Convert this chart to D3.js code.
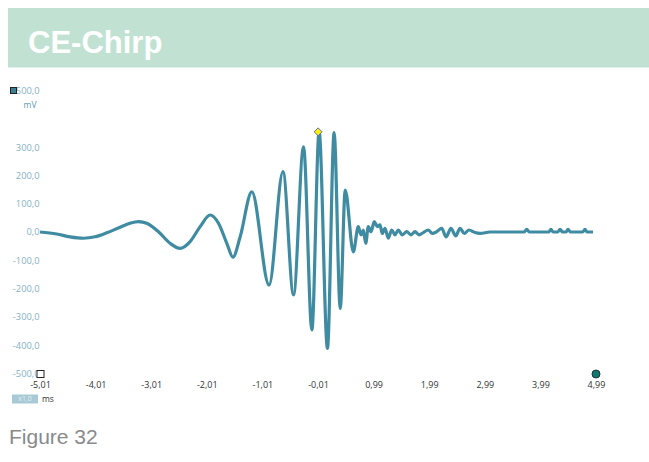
<!DOCTYPE html>
<html>
<head>
<meta charset="utf-8">
<script src="https://cdn.jsdelivr.net/npm/d3@7"></script>
<style>
  body { margin: 0; background: #fff; }
  svg { display: block; }
</style>
</head>
<body>
<div id="main"></div>
<script>
// CE-Chirp trace, values (ms / mV)

var timeMs = [
  -5.01, -4.71, -4.47, -4.23, -4.02, -3.81, -3.57, -3.39, -3.24, -3.09,
  -2.88, -2.67, -2.49, -2.31, -2.13, -1.95, -1.80, -1.65, -1.54, -1.41,
  -1.20, -0.89, -0.64, -0.45, -0.27, -0.12, 0.01, 0.16, 0.28, 0.39,
  0.48, 0.625, 0.715, 0.763, 0.805, 0.848, 0.895, 0.943, 1.003, 1.057,
  1.105, 1.146, 1.195, 1.254, 1.315, 1.375, 1.434, 1.506, 1.585, 1.663,
  1.735, 1.807, 1.884, 1.974, 2.046, 2.125, 2.215, 2.292, 2.382, 2.467,
  2.544, 2.621, 2.706, 2.814, 2.904, 3.084, 3.70, 3.744, 3.79, 4.14,
  4.18, 4.22, 4.30, 4.343, 4.39, 4.45, 4.486, 4.53, 4.75, 4.792,
  4.83, 4.936
];
var voltageMv = [
  0, -7, -17, -22, -17, -3, 17, 31, 37, 31,
  1, -40, -58, -34, 19, 60, 31, -40, -89, -17,
  142, -187, 213, -222, 301, -346, 354, -411, 351, -270,
  148, -70, 19, -10, 7, -40, 19, 1, 37, 19,
  25, -5, 13, -22, 7, -10, 7, -10, 1, -10,
  1, -10, -2, 7, -5, 1, 13, -17, 13, -14,
  13, -5, 7, -2, -5, 0, 0, 9, 0, 0,
  9, 0, 0, 9, 0, 0, 9, 0, 0, 9,
  0, 0
];

var xTicks = [-5.01, -4.01, -3.01, -2.01, -1.01, -0.01, 0.99, 1.99, 2.99, 3.99, 4.99];
var yTicks = [500, 300, 200, 100, 0, -100, -200, -300, -400, -500];

var W = 649, H = 462;
var plotLeft = 40, plotRight = 596, plotTop = 90.5, plotBottom = 373.5;
var lineColor = '#3f8ba1';

var svg = d3.select('#main')
  .append('svg')
  .attr('width', W)
  .attr('height', H);

// header band
svg.append('rect')
  .attr('x', 8).attr('y', 8)
  .attr('width', W - 8).attr('height', 59.5)
  .attr('fill', '#c1e2d3');

svg.append('text')
  .attr('x', 28).attr('y', 53)
  .attr('fill', '#fff')
  .style('font', 'bold 31px "Liberation Sans", Arial, sans-serif')
  .text('CE-Chirp');

var x = d3.scaleLinear().domain([-5.01, 4.99]).range([plotLeft, plotRight]);
var y = d3.scaleLinear().domain([-500, 500]).range([plotBottom, plotTop]);

var fmt = function(d, n) { return d.toFixed(n).replace('.', ','); };

// y axis (labels only)
var yAxis = svg.append('g')
  .attr('transform', 'translate(' + (plotLeft - 0.5) + ',0)')
  .call(d3.axisLeft(y).tickValues(yTicks).tickSize(0).tickPadding(0)
    .tickFormat(function(d) { return fmt(d, 1); }));
yAxis.select('.domain').remove();
yAxis.selectAll('text')
  .attr('fill', '#84b2c6')
  .style('font', '9.3px "Open Sans", sans-serif');

svg.append('text')
  .attr('x', 30).attr('y', 105).attr('dy', '0.35em')
  .attr('text-anchor', 'middle')
  .attr('fill', '#5d9cb2')
  .style('font', '8.5px "Open Sans", sans-serif')
  .text('mV');

// x axis (labels only)
var xAxis = svg.append('g')
  .attr('transform', 'translate(0,' + (plotBottom + 8.5) + ')')
  .call(d3.axisBottom(x).tickValues(xTicks).tickSize(0).tickPadding(0)
    .tickFormat(function(d) { return fmt(d, 2); }));
xAxis.select('.domain').remove();
xAxis.selectAll('text')
  .attr('fill', '#333')
  .style('font', '9px "Open Sans", sans-serif');

// scale badge + unit
svg.append('rect')
  .attr('x', 12).attr('y', 394.5)
  .attr('width', 26).attr('height', 9)
  .attr('fill', '#a8c9d6');
svg.append('text')
  .attr('x', 25).attr('y', 399).attr('dy', '0.35em')
  .attr('text-anchor', 'middle')
  .attr('fill', '#e4eff3')
  .style('font', '7px "Open Sans", sans-serif')
  .text('x1,0');
svg.append('text')
  .attr('x', 42).attr('y', 399).attr('dy', '0.35em')
  .attr('fill', '#333')
  .style('font', '8.5px "Open Sans", sans-serif')
  .text('ms');

// trace
var pts = timeMs.map(function(t, i) { return [t, voltageMv[i]]; });
var line = d3.line()
  .x(function(d) { return x(d[0]); })
  .y(function(d) { return y(d[1]); })
  .curve(d3.curveMonotoneX);

svg.append('path')
  .datum(pts)
  .attr('d', line)
  .attr('fill', 'none')
  .attr('stroke', lineColor)
  .attr('stroke-width', 3.2)
  .attr('stroke-linejoin', 'round');

// markers
svg.append('rect') // channel marker
  .attr('x', 10.5).attr('y', y(500) - 3)
  .attr('width', 6).attr('height', 6)
  .attr('fill', '#3b7f93')
  .attr('stroke', '#222').attr('stroke-width', 1);

svg.append('rect') // origin marker
  .attr('x', x(-5.01) - 3).attr('y', y(-500) - 3)
  .attr('width', 7).attr('height', 7)
  .attr('fill', '#fff')
  .attr('stroke', '#222').attr('stroke-width', 1);

svg.append('circle') // end marker
  .attr('cx', x(4.99)).attr('cy', y(-500) + 0.5)
  .attr('r', 4)
  .attr('fill', '#0f7a72')
  .attr('stroke', '#233').attr('stroke-width', 1);

var peak = pts.reduce(function(a, b) { return b[1] > a[1] ? b : a; });
svg.append('path') // cursor marker
  .attr('d', d3.symbol().type(d3.symbolDiamond2).size(40))
  .attr('transform', 'translate(' + (x(peak[0]) - 1) + ',' + y(peak[1]) + ')')
  .attr('fill', '#ffef00')
  .attr('stroke', '#5a6fb0').attr('stroke-width', 1);

// caption
svg.append('text')
  .attr('x', 9).attr('y', 444)
  .attr('fill', '#8a8a8a')
  .style('font', '21px "Liberation Sans", Arial, sans-serif')
  .text('Figure 32');
</script>
</body>
</html>
